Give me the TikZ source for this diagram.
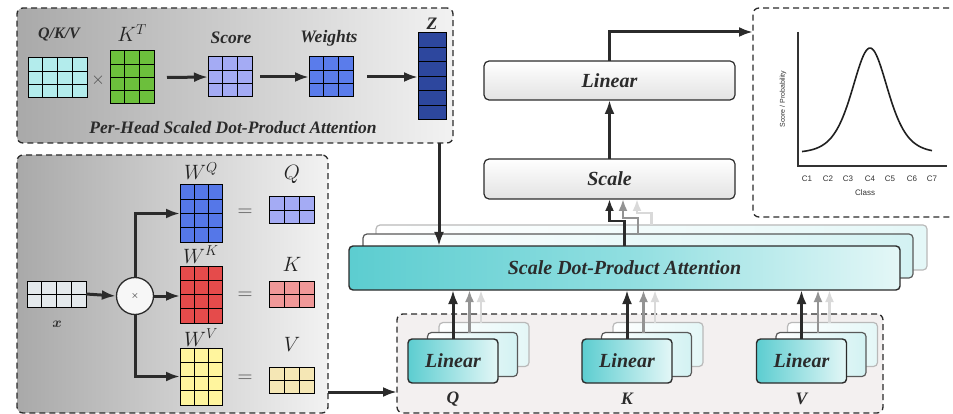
\documentclass[tikz,border=0pt]{standalone}
\usepackage{fontspec}
\setmainfont{Liberation Serif}
\newfontfamily\plotfont{Liberation Sans}
\usepackage{bm}
\usetikzlibrary{arrows.meta,calc}

\definecolor{ink}{HTML}{2B2B2B}
\definecolor{panL}{HTML}{A9A9A9}
\definecolor{panR}{HTML}{F2F2F2}
\definecolor{botpan}{HTML}{F3F0F0}
\definecolor{teal1}{HTML}{5CCDD0}
\definecolor{teal2}{HTML}{8FDEE0}
\definecolor{teal3}{HTML}{E4F7F7}
\definecolor{qkvC}{HTML}{B3ECEC}
\definecolor{ktC}{HTML}{6CBF3C}
\definecolor{scoreC}{HTML}{A4ABF4}
\definecolor{weightC}{HTML}{5A7CEB}
\definecolor{zC}{HTML}{2D479E}
\definecolor{xC}{HTML}{E4E9EC}
\definecolor{wqC}{HTML}{5577E8}
\definecolor{wkC}{HTML}{E54B4B}
\definecolor{wvC}{HTML}{FFF59E}
\definecolor{qC}{HTML}{A4ABF4}
\definecolor{kC}{HTML}{F09898}
\definecolor{vC}{HTML}{F5E7B5}

\newcommand{\gridmat}[8]{% name, cx, cy, w, h, cols, rows, color
  \node[matbox, fill=#8, minimum width=#4pt, minimum height=#5pt] (#1) at (#2,#3) {};
  \pgfmathtruncatemacro{\gmC}{#6-1}%
  \pgfmathtruncatemacro{\gmR}{#7-1}%
  \ifnum\gmC>0
    \foreach \k in {1,...,\gmC}{\draw[matline] ($(#1.north west)!\k/#6!(#1.north east)$) -- ($(#1.south west)!\k/#6!(#1.south east)$);}%
  \fi
  \ifnum\gmR>0
    \foreach \k in {1,...,\gmR}{\draw[matline] ($(#1.north west)!\k/#7!(#1.south west)$) -- ($(#1.north east)!\k/#7!(#1.south east)$);}%
  \fi
}
\newcommand{\boxat}[7]{% name, x0, y0, x1, y1, style, text
  \pgfmathsetmacro{\rbW}{(#4)-(#2)}\pgfmathsetmacro{\rbH}{(#5)-(#3)}%
  \pgfmathsetmacro{\rbX}{((#2)+(#4))/2}\pgfmathsetmacro{\rbY}{((#3)+(#5))/2}%
  \node[#6, minimum width=\rbW pt, minimum height=\rbH pt] (#1) at (\rbX,\rbY) {#7};}

\begin{document}
\begin{tikzpicture}[x=1pt,y=-1pt,
  panel/.style={draw=ink, line width=1.3pt, dash pattern=on 6pt off 4pt, rounded corners=6pt, inner sep=0pt, outer sep=0pt},
  graypanel/.style={panel, left color=panL, right color=panR},
  matbox/.style={draw=black, line width=1pt, inner sep=0pt, outer sep=0pt},
  matline/.style={draw=black, line width=1pt},
  arr/.style={draw=ink, line width=3pt, -{Latex[length=14pt,width=10pt]}},
  arrs/.style={draw=ink, line width=2.6pt, -{Latex[length=12pt,width=9pt]}},
  arrg/.style={arrs, draw=gray!85},
  arrl/.style={arrs, draw=gray!30},
  ttl/.style={font=\fontsize{17.5}{17.5}\selectfont\bfseries\itshape, text=ink},
  boxtxt/.style={font=\fontsize{20}{20}\selectfont\bfseries\itshape, text=ink},
  mathlbl/.style={font=\fontsize{21}{21}\selectfont, text=ink!80!black, anchor=base, inner sep=0pt},
  eqs/.style={font=\fontsize{20}{20}\selectfont, text=gray!60!black},
  gbox/.style={draw=ink, line width=1.2pt, rounded corners=5pt, top color=white, bottom color=gray!22, inner sep=0pt, outer sep=0pt, boxtxt},
  tbox/.style={draw=ink, line width=1.4pt, rounded corners=4pt, left color=teal1, right color=teal3, middle color=teal2, inner sep=0pt, outer sep=0pt, boxtxt},
  lay2/.style={draw=gray!70!black, line width=1.2pt, rounded corners=4pt, left color=white, right color=teal3!80!teal2, inner sep=0pt, outer sep=0pt},
  lay3/.style={draw=gray!55, line width=1.2pt, rounded corners=4pt, left color=white, right color=teal3, inner sep=0pt, outer sep=0pt},
  lbox/.style={draw=ink, line width=1.4pt, rounded corners=4pt, left color=teal1, right color=teal3, inner sep=0pt, outer sep=0pt, boxtxt},
  plotline/.style={draw=gray!40!black, line width=1.1pt},
  plottxt/.style={font=\plotfont\fontsize{8}{8}\selectfont, text=gray!40!black},
]
\useasboundingbox (0,0) rectangle (953,414);

% ---------------- panels ----------------
\boxat{phead}{17}{8}{453}{143}{graypanel}{}
\boxat{pproj}{17}{155}{328}{413}{graypanel}{}
\boxat{plin}{397}{314}{883}{413}{panel, fill=botpan}{}
\boxat{pplot}{753}{8}{975}{217}{panel, fill=white}{}

% ---------------- per-head attention ----------------
\gridmat{mqkv}{57.5}{78}{59}{40}{4}{3}{qkvC}
\gridmat{mkt}{132}{77.5}{44}{53}{3}{4}{ktC}
\gridmat{mscore}{230}{77}{44}{40}{3}{3}{scoreC}
\gridmat{mweight}{331}{77}{44}{40}{3}{3}{weightC}
\gridmat{mz}{432}{76.5}{28}{87}{1}{6}{zC}
\node[ttl, font=\fontsize{16}{16}\selectfont\bfseries\itshape] (tqkv) at (59,35) {Q/K/V};
\node[mathlbl] (tkt) at (132,42) {$K^T$};
\node[ttl] (tscore) at (231,38) {Score};
\node[ttl] (tweight) at (329,38) {Weights};
\node[ttl] (tz) at (432,24) {Z};
\node[font=\fontsize{16}{16}\selectfont, text=gray!60!black] (ttimes) at (98,80) {$\times$};
\node[ttl] (tperhead) at (233,128) {Per-Head Scaled Dot-Product Attention};
\draw[arr] (mkt.east) ++(13,0) coordinate (a1s) -- (mscore.west);
\draw[arr] (mscore.east) ++(8,0) coordinate (a2s) -- (mweight.west);
\draw[arr] (mweight.east) ++(14,0) coordinate (a3s) -- (mz.west |- mweight.east);

% ---------------- projections ----------------
\gridmat{mx}{56.5}{294}{59}{26}{4}{2}{xC}
\node[font=\fontsize{15}{15}\selectfont, text=ink] (tx) at (57,324) {$\bm{x}$};
\node[circle, draw=ink, line width=1.3pt, fill=gray!6, minimum size=37pt, inner sep=0pt] (mul) at (135,296) {\fontsize{10}{10}\selectfont$\times$};
\gridmat{mwq}{201}{213.5}{42}{57}{3}{4}{wqC}
\gridmat{mwk}{201}{294.5}{42}{57}{3}{4}{wkC}
\gridmat{mwv}{201}{376.5}{42}{57}{3}{4}{wvC}
\gridmat{mq}{291.5}{210.5}{45}{27}{3}{2}{qC}
\gridmat{mk}{291.5}{294}{45}{26}{3}{2}{kC}
\gridmat{mv}{291.5}{380}{45}{26}{3}{2}{vC}
\node[mathlbl] (twq) at (201,180) {$W^Q$};
\node[mathlbl] (twk) at (201,263) {$W^K$};
\node[mathlbl] (twv) at (201,346) {$W^V$};
\node[mathlbl] (tq) at (292,180) {$Q$};
\node[mathlbl] (tk) at (292,271) {$K$};
\node[mathlbl] (tv) at (292,351) {$V$};
\node[eqs] (eq1) at (245,213) {$=$};
\node[eqs] (eq2) at (245,296) {$=$};
\node[eqs] (eq3) at (245,379) {$=$};
\draw[arr] (mx.east) -- (mul.west);
\draw[arr] (mul.east) -- (mwk.west |- mul.east);
\draw[arr] (mul.north) |- (mwq.west);
\draw[arr] (mul.south) |- (mwv.west);

% ---------------- attention stack ----------------
\boxat{bar3}{376}{225}{927}{270}{lay3}{}
\boxat{bar2}{363}{234}{913}{278}{lay2}{}
\boxat{bar}{349}{246}{900}{290}{tbox}{Scale Dot-Product Attention}

\boxat{scale}{484}{159}{735}{199}{gbox}{Scale}
\boxat{lintop}{484}{61}{735}{100}{gbox}{Linear}

% ---------------- linear heads ----------------
\foreach \nm/\cx/\lab in {Q/453/Q, K/627/K, V/801.5/V}{
  \boxat{L3\nm}{\cx-14}{322.5}{\cx+76}{366.5}{lay3}{}
  \boxat{L2\nm}{\cx-25.5}{332.5}{\cx+64.5}{376.5}{lay2}{}
  \boxat{L1\nm}{\cx-45}{339}{\cx+45}{383}{lbox}{Linear}
  \node[ttl] (lab\nm) at (\cx,399) {\lab};
  \coordinate (s3\nm) at ($(L3\nm.north)+(-3,0)$);
  \coordinate (s2\nm) at ($(L2\nm.north)+(-3,0)$);
  \draw[arrl] (s3\nm) -- (s3\nm |- bar.south);
  \draw[arrg] (s2\nm) -- (s2\nm |- bar.south);
  \draw[arr] (L1\nm.north) -- (L1\nm.north |- bar.south);
}

% ---------------- connectors ----------------
\draw[arrl] (bar3.north) -- ++(0,-12) -| ($(scale.south)+(27.5,0)$);
\draw[arrg] (bar2.north) -- ++(0,-16) -| ($(scale.south)+(13.5,0)$);
\draw[arrs] (bar.north) -- ++(0,-25) -| (scale.south);
\draw[arr] (scale.north) -- (lintop.south);
\coordinate (plotin) at (753,32);
\draw[arr] (lintop.north) |- (plotin);
\coordinate (headout) at (439,143);
\draw[arr] (headout) -- (headout |- bar.north);
\coordinate (projout) at (328,392);
\coordinate (linin) at (397,392);
\draw[arr] (projout) -- (linin);

% ---------------- plot ----------------
\coordinate (yax) at (798,32);
\coordinate (org) at (798,166);
\coordinate (xax) at (947,166);
\draw[plotline] (yax) -- (org) -- (xax);
\draw[draw=gray!25!black, line width=1.6pt] plot[domain=802:932, samples=90, smooth] (\x,{153-105/(cosh((\x-870)/24))^2});
\foreach \i/\xx in {1/807,2/828,3/848,4/870,5/890,6/912,7/932}{
  \node[plottxt] (c\i) at (\xx,179) {C\i};
}
\node[plottxt] (tclass) at (865,193) {Class};
\node[plottxt, font=\plotfont\fontsize{7}{7}\selectfont, rotate=90] (tscorey) at (783,99) {Score / Probability};
\end{tikzpicture}
\end{document}
